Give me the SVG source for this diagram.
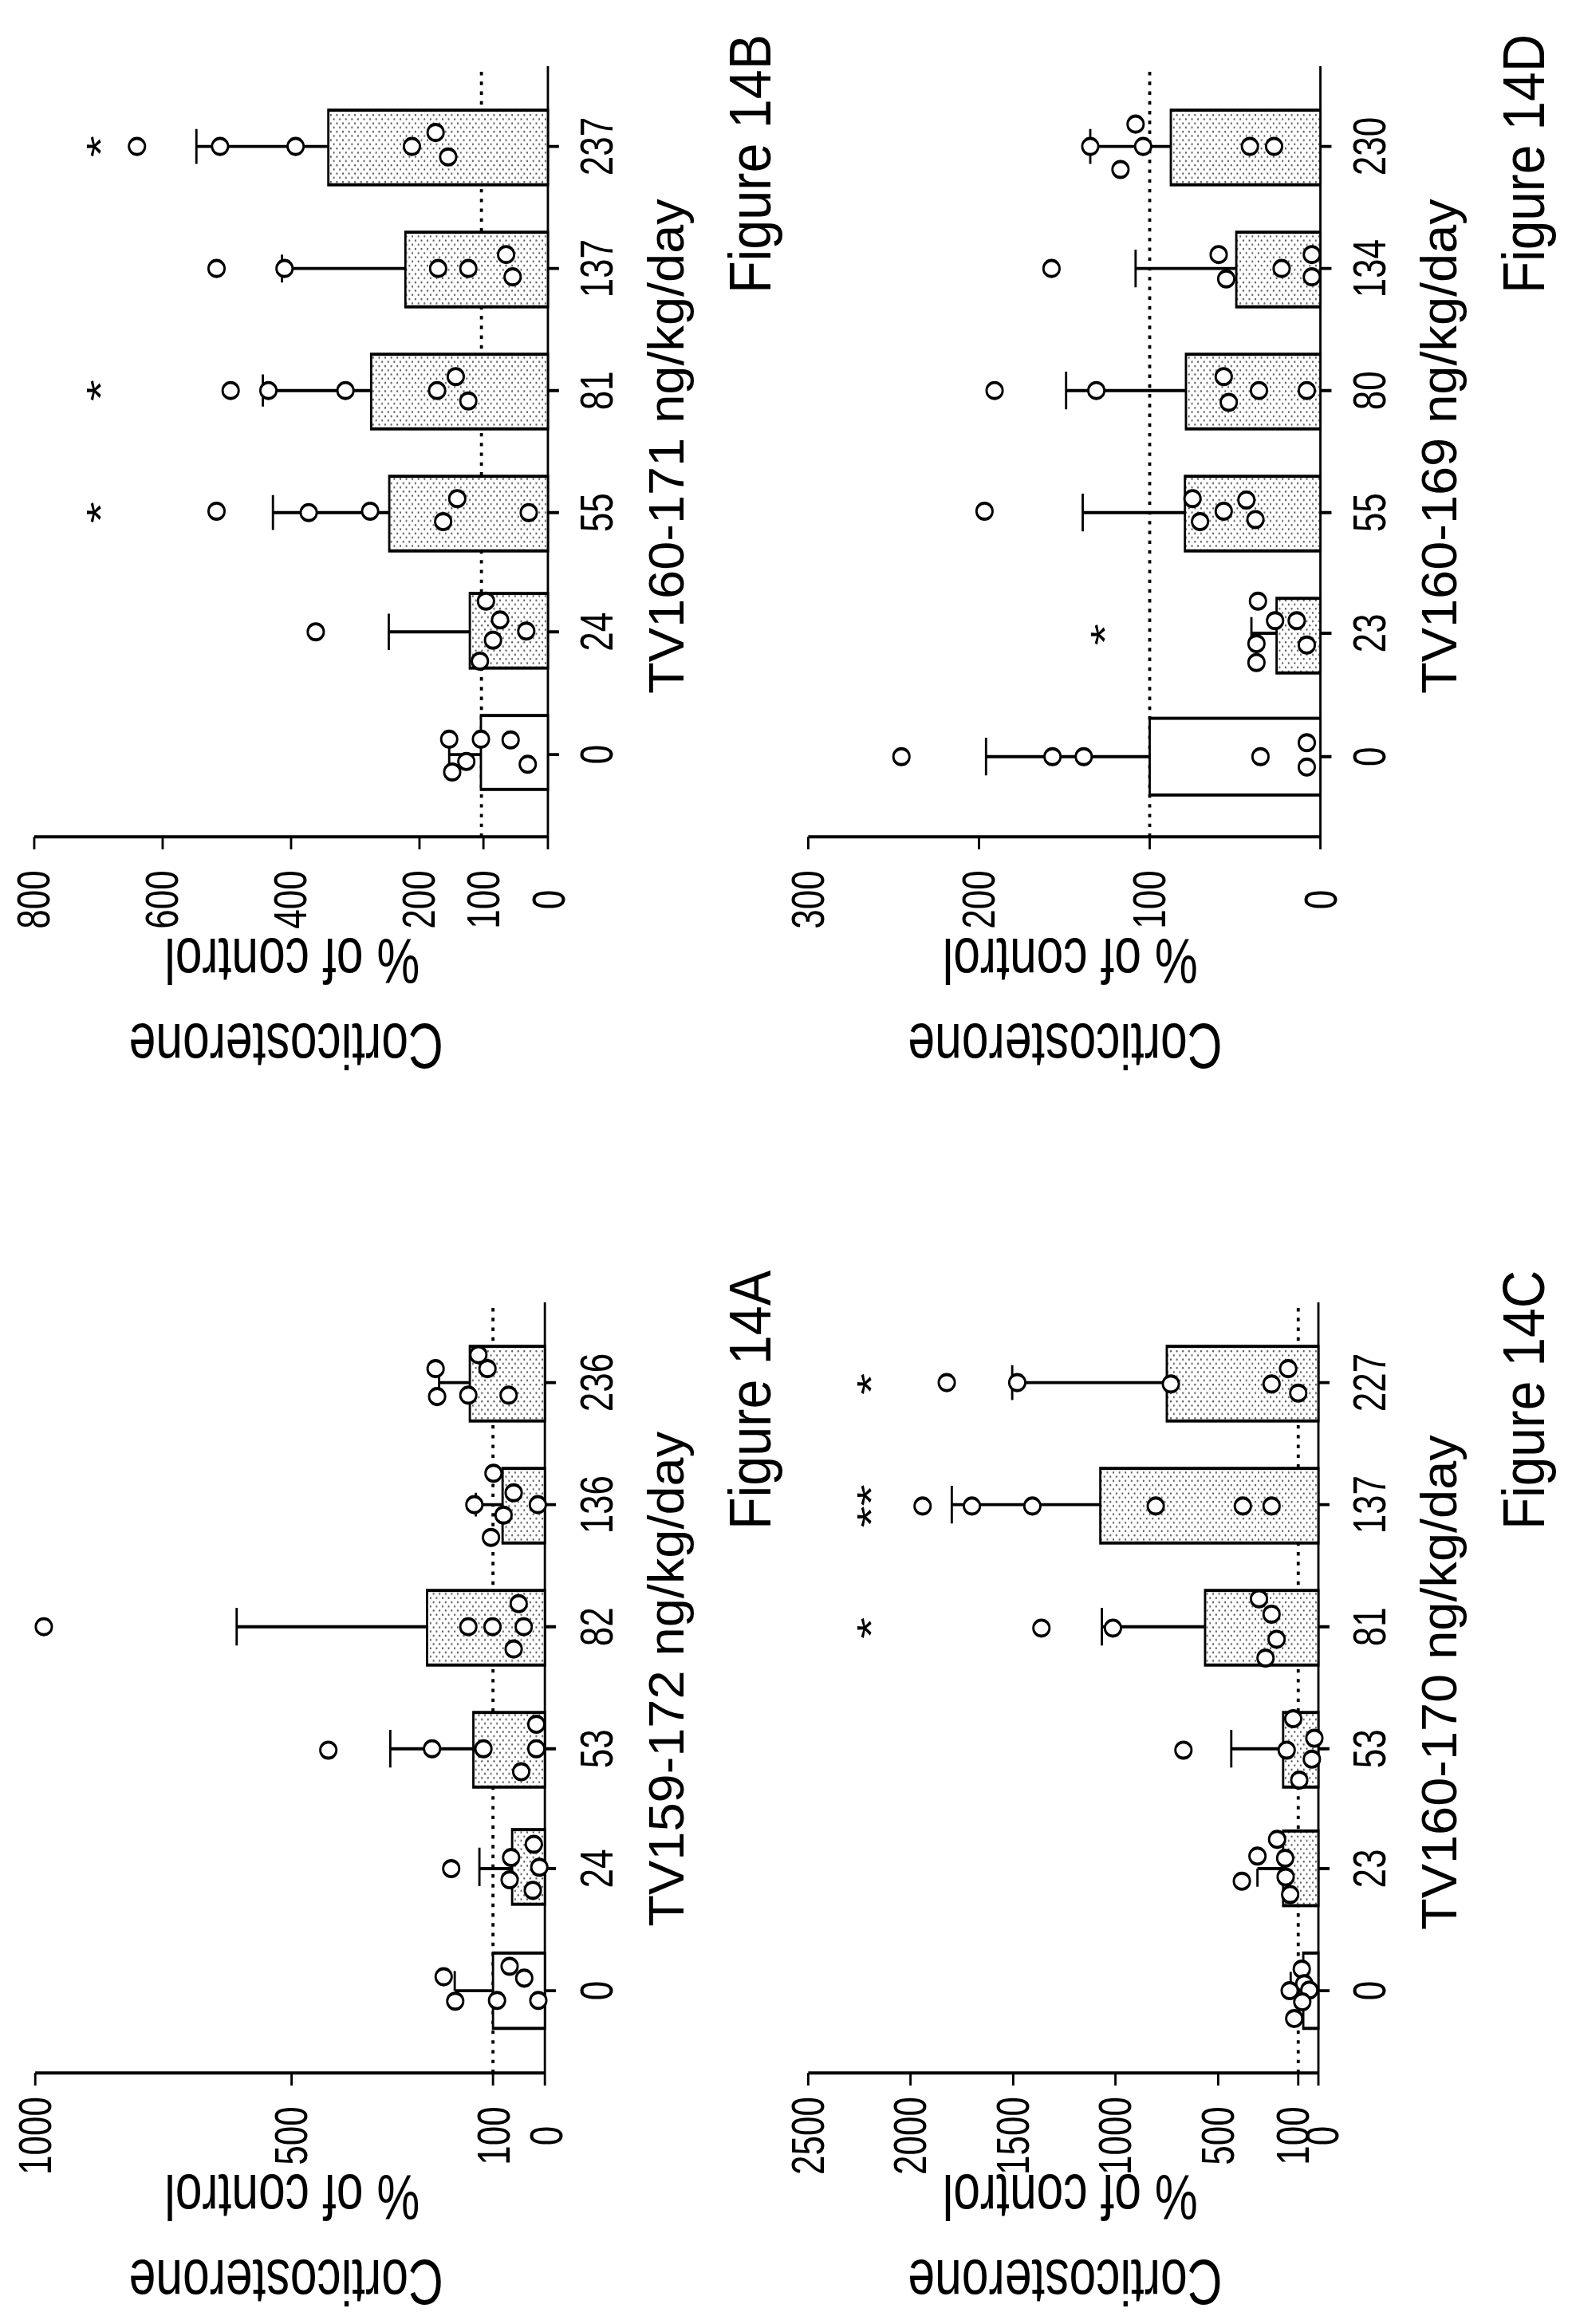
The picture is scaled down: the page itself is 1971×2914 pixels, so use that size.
<svg xmlns="http://www.w3.org/2000/svg" width="1971" height="2914" viewBox="0 0 1971 2914">
<defs>
<pattern id="stip" width="12" height="12" patternUnits="userSpaceOnUse"><rect width="12" height="12" fill="#fff"/><circle cx="3" cy="3" r="1.6" fill="#555"/><circle cx="9" cy="9" r="1.6" fill="#555"/></pattern>
</defs>
<style>
.ax{stroke:#000;stroke-width:4.5;fill:none}
.dl{stroke:#000;stroke-width:6;stroke-dasharray:5 9;fill:none}
.bar{fill:url(#stip);stroke:#000;stroke-width:4.5}
.open{fill:#fff;stroke:#000;stroke-width:4.5}
.pt{fill:#fff;stroke:#000;stroke-width:4.5}
.t{font-family:"Liberation Sans",Arial,sans-serif;fill:#000;text-anchor:middle;dominant-baseline:central}
.tk{font-size:90px}
.ti{font-size:100px}
.fg{font-size:118px}
.yl{font-size:96px}
.st{font-size:80px}
</style>
<rect width="1971" height="2914" fill="#fff"/>

<!-- Panel B -->
<g id="panelB" transform="translate(0,0) scale(0.6314,0.8744)">
<g id="axesB">
<path class="ax" d="M1088,95 V1200 H68 M68,1200 v18 M323,1200 v18 M578,1200 v18 M833,1200 v18 M960,1200 v18 M1088,1200 v18 M1088,1082 h22 M1088,906 h22 M1088,735 h22 M1088,560 h22 M1088,385 h22 M1088,210 h22"/>
<path class="dl" d="M956,1200 V95"/>
<g class="t tk">
<text transform="translate(1090,1290) rotate(-90)" textLength="28" lengthAdjust="spacingAndGlyphs">0</text>
<text transform="translate(960,1290) rotate(-90)" textLength="84" lengthAdjust="spacingAndGlyphs">100</text>
<text transform="translate(833,1290) rotate(-90)" textLength="84" lengthAdjust="spacingAndGlyphs">200</text>
<text transform="translate(578,1290) rotate(-90)" textLength="84" lengthAdjust="spacingAndGlyphs">400</text>
<text transform="translate(323,1290) rotate(-90)" textLength="84" lengthAdjust="spacingAndGlyphs">600</text>
<text transform="translate(68,1290) rotate(-90)" textLength="84" lengthAdjust="spacingAndGlyphs">800</text>
<text transform="translate(1185,1082) rotate(-90)" textLength="28" lengthAdjust="spacingAndGlyphs">0</text>
<text transform="translate(1185,906) rotate(-90)" textLength="56" lengthAdjust="spacingAndGlyphs">24</text>
<text transform="translate(1185,735) rotate(-90)" textLength="56" lengthAdjust="spacingAndGlyphs">55</text>
<text transform="translate(1185,560) rotate(-90)" textLength="56" lengthAdjust="spacingAndGlyphs">81</text>
<text transform="translate(1185,385) rotate(-90)" textLength="84" lengthAdjust="spacingAndGlyphs">137</text>
<text transform="translate(1185,210) rotate(-90)" textLength="84" lengthAdjust="spacingAndGlyphs">237</text>
</g>
<text class="t ti" transform="translate(1322,640) rotate(-90)" textLength="710" lengthAdjust="spacingAndGlyphs">TV160-171 ng/kg/day</text>
<text class="t fg" transform="translate(1490,235) rotate(-90)" textLength="372" lengthAdjust="spacingAndGlyphs">Figure 14B</text>
<text class="t yl" transform="translate(568,1500) scale(1,0.95) rotate(180)">Corticosterone</text>
<text class="t yl" transform="translate(580,1378) scale(1,0.95) rotate(180)">% of control</text>
</g>
<g id="barsB">
<rect class="open" x="955" y="1026" width="133" height="106"/>
<rect class="bar" x="933" y="851" width="155" height="107"/>
<rect class="bar" x="773" y="683" width="315" height="107"/>
<rect class="bar" x="737" y="508" width="351" height="107"/>
<rect class="bar" x="805" y="333" width="283" height="107"/>
<rect class="bar" x="652" y="158" width="436" height="107"/>
<path class="ax" d="M955,1082 H892 M892,1060 v47 M933,906 H772 M772,880 v52 M773,735 H542 M542,710 v50 M737,560 H522 M522,537 v46 M805,385 H560 M560,365 v40 M652,210 H390 M390,185 v50"/>
</g>
<g id="ptsB">
<ellipse class="pt" cx="892" cy="1060" rx="16" ry="11.5"/><ellipse class="pt" cx="898" cy="1107" rx="16" ry="11.5"/><ellipse class="pt" cx="926" cy="1092" rx="16" ry="11.5"/><ellipse class="pt" cx="955" cy="1060" rx="16" ry="11.5"/><ellipse class="pt" cx="1014" cy="1061" rx="16" ry="11.5"/><ellipse class="pt" cx="1048" cy="1096" rx="16" ry="11.5"/>
<ellipse class="pt" cx="627" cy="906" rx="16" ry="11.5"/><ellipse class="pt" cx="953" cy="948" rx="16" ry="11.5"/><ellipse class="pt" cx="979" cy="918" rx="16" ry="11.5"/><ellipse class="pt" cx="993" cy="889" rx="16" ry="11.5"/><ellipse class="pt" cx="965" cy="862" rx="16" ry="11.5"/><ellipse class="pt" cx="1045" cy="905" rx="16" ry="11.5"/>
<ellipse class="pt" cx="430" cy="733" rx="16" ry="11.5"/><ellipse class="pt" cx="613" cy="735" rx="16" ry="11.5"/><ellipse class="pt" cx="735" cy="733" rx="16" ry="11.5"/><ellipse class="pt" cx="880" cy="748" rx="16" ry="11.5"/><ellipse class="pt" cx="908" cy="715" rx="16" ry="11.5"/><ellipse class="pt" cx="1050" cy="735" rx="16" ry="11.5"/>
<ellipse class="pt" cx="458" cy="560" rx="16" ry="11.5"/><ellipse class="pt" cx="533" cy="560" rx="16" ry="11.5"/><ellipse class="pt" cx="686" cy="560" rx="16" ry="11.5"/><ellipse class="pt" cx="868" cy="560" rx="16" ry="11.5"/><ellipse class="pt" cx="905" cy="540" rx="16" ry="11.5"/><ellipse class="pt" cx="930" cy="575" rx="16" ry="11.5"/>
<ellipse class="pt" cx="430" cy="385" rx="16" ry="11.5"/><ellipse class="pt" cx="565" cy="385" rx="16" ry="11.5"/><ellipse class="pt" cx="870" cy="385" rx="16" ry="11.5"/><ellipse class="pt" cx="930" cy="385" rx="16" ry="11.5"/><ellipse class="pt" cx="1005" cy="365" rx="16" ry="11.5"/><ellipse class="pt" cx="1018" cy="397" rx="16" ry="11.5"/>
<ellipse class="pt" cx="272" cy="210" rx="16" ry="11.5"/><ellipse class="pt" cx="437" cy="210" rx="16" ry="11.5"/><ellipse class="pt" cx="587" cy="210" rx="16" ry="11.5"/><ellipse class="pt" cx="818" cy="210" rx="16" ry="11.5"/><ellipse class="pt" cx="865" cy="190" rx="16" ry="11.5"/><ellipse class="pt" cx="890" cy="225" rx="16" ry="11.5"/>
</g>
<g class="t st">
<text transform="translate(200,735) rotate(-90)">*</text>
<text transform="translate(200,560) rotate(-90)">*</text>
<text transform="translate(200,210) rotate(-90)">*</text>
</g>
</g>

<!-- Panel D -->
<g id="panelD" transform="translate(985,0) scale(0.6314,0.8744)">
<g id="axesD">
<path class="ax" d="M1062,95 V1200 H45 M45,1200 v18 M384,1200 v18 M723,1200 v18 M1062,1200 v18 M1062,1085 h22 M1062,908 h22 M1062,735 h22 M1062,560 h22 M1062,385 h22 M1062,210 h22"/>
<path class="dl" d="M723,1200 V95"/>
<g class="t tk">
<text transform="translate(1064,1290) rotate(-90)" textLength="28" lengthAdjust="spacingAndGlyphs">0</text>
<text transform="translate(723,1290) rotate(-90)" textLength="84" lengthAdjust="spacingAndGlyphs">100</text>
<text transform="translate(384,1290) rotate(-90)" textLength="84" lengthAdjust="spacingAndGlyphs">200</text>
<text transform="translate(45,1290) rotate(-90)" textLength="84" lengthAdjust="spacingAndGlyphs">300</text>
<text transform="translate(1160,1085) rotate(-90)" textLength="28" lengthAdjust="spacingAndGlyphs">0</text>
<text transform="translate(1160,908) rotate(-90)" textLength="56" lengthAdjust="spacingAndGlyphs">23</text>
<text transform="translate(1160,735) rotate(-90)" textLength="56" lengthAdjust="spacingAndGlyphs">55</text>
<text transform="translate(1160,560) rotate(-90)" textLength="56" lengthAdjust="spacingAndGlyphs">80</text>
<text transform="translate(1160,385) rotate(-90)" textLength="84" lengthAdjust="spacingAndGlyphs">134</text>
<text transform="translate(1160,210) rotate(-90)" textLength="84" lengthAdjust="spacingAndGlyphs">230</text>
</g>
<text class="t ti" transform="translate(1298,640) rotate(-90)" textLength="710" lengthAdjust="spacingAndGlyphs">TV160-169 ng/kg/day</text>
<text class="t fg" transform="translate(1465,235) rotate(-90)" textLength="372" lengthAdjust="spacingAndGlyphs">Figure 14D</text>
<text class="t yl" transform="translate(555,1500) scale(1,0.95) rotate(180)">Corticosterone</text>
<text class="t yl" transform="translate(565,1378) scale(1,0.95) rotate(180)">% of control</text>
</g>
<g id="barsD">
<rect class="open" x="723" y="1030" width="339" height="110"/>
<rect class="bar" x="975" y="858" width="87" height="107"/>
<rect class="bar" x="793" y="683" width="269" height="107"/>
<rect class="bar" x="795" y="508" width="267" height="107"/>
<rect class="bar" x="895" y="333" width="167" height="107"/>
<rect class="bar" x="765" y="158" width="297" height="107"/>
<path class="ax" d="M723,1085 H398 M398,1058 v54 M975,908 H925 M925,885 v46 M793,735 H590 M590,708 v54 M795,560 H557 M557,533 v54 M895,385 H695 M695,358 v54 M765,210 H605 M605,185 v50"/>
</g>
<g id="ptsD">
<ellipse class="pt" cx="230" cy="1085" rx="16" ry="11.5"/><ellipse class="pt" cx="530" cy="1085" rx="16" ry="11.5"/><ellipse class="pt" cx="592" cy="1085" rx="16" ry="11.5"/><ellipse class="pt" cx="943" cy="1085" rx="16" ry="11.5"/><ellipse class="pt" cx="1035" cy="1065" rx="16" ry="11.5"/><ellipse class="pt" cx="1035" cy="1100" rx="16" ry="11.5"/>
<ellipse class="pt" cx="935" cy="950" rx="16" ry="11.5"/><ellipse class="pt" cx="935" cy="923" rx="16" ry="11.5"/><ellipse class="pt" cx="972" cy="890" rx="16" ry="11.5"/><ellipse class="pt" cx="1015" cy="890" rx="16" ry="11.5"/><ellipse class="pt" cx="1035" cy="925" rx="16" ry="11.5"/><ellipse class="pt" cx="938" cy="862" rx="16" ry="11.5"/>
<ellipse class="pt" cx="395" cy="733" rx="16" ry="11.5"/><ellipse class="pt" cx="808" cy="715" rx="16" ry="11.5"/><ellipse class="pt" cx="823" cy="748" rx="16" ry="11.5"/><ellipse class="pt" cx="870" cy="733" rx="16" ry="11.5"/><ellipse class="pt" cx="915" cy="717" rx="16" ry="11.5"/><ellipse class="pt" cx="933" cy="745" rx="16" ry="11.5"/>
<ellipse class="pt" cx="415" cy="560" rx="16" ry="11.5"/><ellipse class="pt" cx="617" cy="560" rx="16" ry="11.5"/><ellipse class="pt" cx="870" cy="540" rx="16" ry="11.5"/><ellipse class="pt" cx="880" cy="577" rx="16" ry="11.5"/><ellipse class="pt" cx="940" cy="560" rx="16" ry="11.5"/><ellipse class="pt" cx="1035" cy="560" rx="16" ry="11.5"/>
<ellipse class="pt" cx="528" cy="385" rx="16" ry="11.5"/><ellipse class="pt" cx="860" cy="365" rx="16" ry="11.5"/><ellipse class="pt" cx="875" cy="400" rx="16" ry="11.5"/><ellipse class="pt" cx="985" cy="385" rx="16" ry="11.5"/><ellipse class="pt" cx="1045" cy="365" rx="16" ry="11.5"/><ellipse class="pt" cx="1045" cy="397" rx="16" ry="11.5"/>
<ellipse class="pt" cx="605" cy="210" rx="16" ry="11.5"/><ellipse class="pt" cx="665" cy="243" rx="16" ry="11.5"/><ellipse class="pt" cx="710" cy="210" rx="16" ry="11.5"/><ellipse class="pt" cx="695" cy="178" rx="16" ry="11.5"/><ellipse class="pt" cx="922" cy="210" rx="16" ry="11.5"/><ellipse class="pt" cx="970" cy="210" rx="16" ry="11.5"/>
</g>
<g class="t st"><text transform="translate(635,910) rotate(-90)">*</text></g>
</g>

<!-- Panel A -->
<g id="panelA" transform="translate(0,1550) scale(0.6314,0.8744)">
<g id="axesA">
<path class="ax" d="M1082,95 V1200 H70 M70,1200 v18 M579,1200 v18 M979,1200 v18 M1082,1200 v18 M1082,1082 h22 M1082,907 h22 M1082,735 h22 M1082,560 h22 M1082,385 h22 M1082,210 h22"/>
<path class="dl" d="M979,1200 V95"/>
<g class="t tk">
<text transform="translate(1086,1290) rotate(-90)" textLength="28" lengthAdjust="spacingAndGlyphs">0</text>
<text transform="translate(982,1290) rotate(-90)" textLength="84" lengthAdjust="spacingAndGlyphs">100</text>
<text transform="translate(579,1290) rotate(-90)" textLength="84" lengthAdjust="spacingAndGlyphs">500</text>
<text transform="translate(70,1290) rotate(-90)" textLength="112" lengthAdjust="spacingAndGlyphs">1000</text>
<text transform="translate(1185,1082) rotate(-90)" textLength="28" lengthAdjust="spacingAndGlyphs">0</text>
<text transform="translate(1185,907) rotate(-90)" textLength="56" lengthAdjust="spacingAndGlyphs">24</text>
<text transform="translate(1185,735) rotate(-90)" textLength="56" lengthAdjust="spacingAndGlyphs">53</text>
<text transform="translate(1185,560) rotate(-90)" textLength="56" lengthAdjust="spacingAndGlyphs">82</text>
<text transform="translate(1185,385) rotate(-90)" textLength="84" lengthAdjust="spacingAndGlyphs">136</text>
<text transform="translate(1185,210) rotate(-90)" textLength="84" lengthAdjust="spacingAndGlyphs">236</text>
</g>
<text class="t ti" transform="translate(1322,635) rotate(-90)" textLength="710" lengthAdjust="spacingAndGlyphs">TV159-172 ng/kg/day</text>
<text class="t fg" transform="translate(1490,235) rotate(-90)" textLength="372" lengthAdjust="spacingAndGlyphs">Figure 14A</text>
<text class="t yl" transform="translate(568,1500) scale(1,0.95) rotate(180)">Corticosterone</text>
<text class="t yl" transform="translate(580,1378) scale(1,0.95) rotate(180)">% of control</text>
</g>
<g id="barsA">
<rect class="open" x="979" y="1028" width="103" height="108"/>
<rect class="bar" x="1017" y="851" width="65" height="107"/>
<rect class="bar" x="940" y="683" width="142" height="107"/>
<rect class="bar" x="848" y="508" width="234" height="107"/>
<rect class="bar" x="998" y="333" width="84" height="107"/>
<rect class="bar" x="933" y="158" width="149" height="107"/>
<path class="ax" d="M979,1082 H903 M903,1054 v28 M1017,907 H952 M952,877 v55 M940,735 H775 M775,708 v54 M848,560 H470 M470,533 v54 M998,385 H945 M945,368 v34 M933,210 H872 M872,190 v40"/>
</g>
<g id="ptsA">
<ellipse class="pt" cx="881" cy="1062" rx="16" ry="11.5"/><ellipse class="pt" cx="904" cy="1097" rx="16" ry="11.5"/><ellipse class="pt" cx="987" cy="1096" rx="16" ry="11.5"/><ellipse class="pt" cx="1069" cy="1096" rx="16" ry="11.5"/><ellipse class="pt" cx="1012" cy="1047" rx="16" ry="11.5"/><ellipse class="pt" cx="1041" cy="1064" rx="16" ry="11.5"/>
<ellipse class="pt" cx="896" cy="907" rx="16" ry="11.5"/><ellipse class="pt" cx="1015" cy="891" rx="16" ry="11.5"/><ellipse class="pt" cx="1060" cy="872" rx="16" ry="11.5"/><ellipse class="pt" cx="1012" cy="923" rx="16" ry="11.5"/><ellipse class="pt" cx="1071" cy="905" rx="16" ry="11.5"/><ellipse class="pt" cx="1058" cy="938" rx="16" ry="11.5"/>
<ellipse class="pt" cx="652" cy="737" rx="16" ry="11.5"/><ellipse class="pt" cx="858" cy="735" rx="16" ry="11.5"/><ellipse class="pt" cx="960" cy="735" rx="16" ry="11.5"/><ellipse class="pt" cx="1065" cy="700" rx="16" ry="11.5"/><ellipse class="pt" cx="1065" cy="735" rx="16" ry="11.5"/><ellipse class="pt" cx="1035" cy="768" rx="16" ry="11.5"/>
<ellipse class="pt" cx="87" cy="560" rx="16" ry="11.5"/><ellipse class="pt" cx="930" cy="560" rx="16" ry="11.5"/><ellipse class="pt" cx="978" cy="560" rx="16" ry="11.5"/><ellipse class="pt" cx="1030" cy="527" rx="16" ry="11.5"/><ellipse class="pt" cx="1040" cy="560" rx="16" ry="11.5"/><ellipse class="pt" cx="1020" cy="592" rx="16" ry="11.5"/>
<ellipse class="pt" cx="942" cy="385" rx="16" ry="11.5"/><ellipse class="pt" cx="975" cy="432" rx="16" ry="11.5"/><ellipse class="pt" cx="1000" cy="400" rx="16" ry="11.5"/><ellipse class="pt" cx="1020" cy="368" rx="16" ry="11.5"/><ellipse class="pt" cx="1068" cy="385" rx="16" ry="11.5"/><ellipse class="pt" cx="980" cy="340" rx="16" ry="11.5"/>
<ellipse class="pt" cx="865" cy="190" rx="16" ry="11.5"/><ellipse class="pt" cx="868" cy="230" rx="16" ry="11.5"/><ellipse class="pt" cx="930" cy="228" rx="16" ry="11.5"/><ellipse class="pt" cx="968" cy="190" rx="16" ry="11.5"/><ellipse class="pt" cx="950" cy="170" rx="16" ry="11.5"/><ellipse class="pt" cx="1010" cy="228" rx="16" ry="11.5"/>
</g>
</g>

<!-- Panel C -->
<g id="panelC" transform="translate(985,1550) scale(0.6314,0.8744)">
<g id="axesC">
<path class="ax" d="M1058,95 V1200 H45 M45,1200 v18 M248,1200 v18 M452,1200 v18 M655,1200 v18 M859,1200 v18 M1018,1200 v18 M1058,1200 v18 M1058,1082 h22 M1058,907 h22 M1058,735 h22 M1058,560 h22 M1058,385 h22 M1058,210 h22"/>
<path class="dl" d="M1018,1200 V95"/>
<g class="t tk">
<text transform="translate(1066,1290) rotate(-90)" textLength="28" lengthAdjust="spacingAndGlyphs">0</text>
<text transform="translate(1008,1290) rotate(-90)" textLength="84" lengthAdjust="spacingAndGlyphs">100</text>
<text transform="translate(859,1290) rotate(-90)" textLength="84" lengthAdjust="spacingAndGlyphs">500</text>
<text transform="translate(655,1290) rotate(-90)" textLength="112" lengthAdjust="spacingAndGlyphs">1000</text>
<text transform="translate(452,1290) rotate(-90)" textLength="112" lengthAdjust="spacingAndGlyphs">1500</text>
<text transform="translate(248,1290) rotate(-90)" textLength="112" lengthAdjust="spacingAndGlyphs">2000</text>
<text transform="translate(45,1290) rotate(-90)" textLength="112" lengthAdjust="spacingAndGlyphs">2500</text>
<text transform="translate(1160,1082) rotate(-90)" textLength="28" lengthAdjust="spacingAndGlyphs">0</text>
<text transform="translate(1160,907) rotate(-90)" textLength="56" lengthAdjust="spacingAndGlyphs">23</text>
<text transform="translate(1160,735) rotate(-90)" textLength="56" lengthAdjust="spacingAndGlyphs">53</text>
<text transform="translate(1160,560) rotate(-90)" textLength="56" lengthAdjust="spacingAndGlyphs">81</text>
<text transform="translate(1160,385) rotate(-90)" textLength="84" lengthAdjust="spacingAndGlyphs">137</text>
<text transform="translate(1160,210) rotate(-90)" textLength="84" lengthAdjust="spacingAndGlyphs">227</text>
</g>
<text class="t ti" transform="translate(1298,640) rotate(-90)" textLength="710" lengthAdjust="spacingAndGlyphs">TV160-170 ng/kg/day</text>
<text class="t fg" transform="translate(1465,235) rotate(-90)" textLength="372" lengthAdjust="spacingAndGlyphs">Figure 14C</text>
<text class="t yl" transform="translate(555,1500) scale(1,0.95) rotate(180)">Corticosterone</text>
<text class="t yl" transform="translate(565,1378) scale(1,0.95) rotate(180)">% of control</text>
</g>
<g id="barsC">
<rect class="open" x="1028" y="1028" width="30" height="108"/>
<rect class="bar" x="988" y="853" width="70" height="107"/>
<rect class="bar" x="988" y="683" width="70" height="107"/>
<rect class="bar" x="833" y="508" width="225" height="107"/>
<rect class="bar" x="625" y="333" width="433" height="107"/>
<rect class="bar" x="757" y="158" width="301" height="107"/>
<path class="ax" d="M1028,1082 H1003 M1003,1055 v27 M988,907 H937 M937,907 v26 M988,735 H885 M885,708 v54 M833,560 H628 M628,533 v54 M625,385 H330 M330,358 v54 M757,210 H450 M450,185 v50"/>
</g>
<g id="ptsC">
<ellipse class="pt" cx="1025" cy="1051" rx="16" ry="11.5"/><ellipse class="pt" cx="1030" cy="1072" rx="16" ry="11.5"/><ellipse class="pt" cx="1001" cy="1082" rx="16" ry="11.5"/><ellipse class="pt" cx="1040" cy="1081" rx="16" ry="11.5"/><ellipse class="pt" cx="1026" cy="1098" rx="16" ry="11.5"/><ellipse class="pt" cx="1010" cy="1122" rx="16" ry="11.5"/>
<ellipse class="pt" cx="937" cy="889" rx="16" ry="11.5"/><ellipse class="pt" cx="906" cy="925" rx="16" ry="11.5"/><ellipse class="pt" cx="992" cy="892" rx="16" ry="11.5"/><ellipse class="pt" cx="993" cy="919" rx="16" ry="11.5"/><ellipse class="pt" cx="976" cy="865" rx="16" ry="11.5"/><ellipse class="pt" cx="1002" cy="944" rx="16" ry="11.5"/>
<ellipse class="pt" cx="790" cy="737" rx="16" ry="11.5"/><ellipse class="pt" cx="995" cy="737" rx="16" ry="11.5"/><ellipse class="pt" cx="1020" cy="780" rx="16" ry="11.5"/><ellipse class="pt" cx="1045" cy="750" rx="16" ry="11.5"/><ellipse class="pt" cx="1050" cy="720" rx="16" ry="11.5"/><ellipse class="pt" cx="1008" cy="692" rx="16" ry="11.5"/>
<ellipse class="pt" cx="508" cy="562" rx="16" ry="11.5"/><ellipse class="pt" cx="650" cy="562" rx="16" ry="11.5"/><ellipse class="pt" cx="953" cy="605" rx="16" ry="11.5"/><ellipse class="pt" cx="975" cy="578" rx="16" ry="11.5"/><ellipse class="pt" cx="965" cy="542" rx="16" ry="11.5"/><ellipse class="pt" cx="940" cy="520" rx="16" ry="11.5"/>
<ellipse class="pt" cx="272" cy="387" rx="16" ry="11.5"/><ellipse class="pt" cx="370" cy="387" rx="16" ry="11.5"/><ellipse class="pt" cx="490" cy="387" rx="16" ry="11.5"/><ellipse class="pt" cx="735" cy="387" rx="16" ry="11.5"/><ellipse class="pt" cx="908" cy="387" rx="16" ry="11.5"/><ellipse class="pt" cx="965" cy="387" rx="16" ry="11.5"/>
<ellipse class="pt" cx="320" cy="210" rx="16" ry="11.5"/><ellipse class="pt" cx="460" cy="210" rx="16" ry="11.5"/><ellipse class="pt" cx="765" cy="212" rx="16" ry="11.5"/><ellipse class="pt" cx="965" cy="212" rx="16" ry="11.5"/><ellipse class="pt" cx="998" cy="190" rx="16" ry="11.5"/><ellipse class="pt" cx="1018" cy="225" rx="16" ry="11.5"/>
</g>
<g class="t st">
<text transform="translate(170,562) rotate(-90)">*</text>
<text transform="translate(170,387) rotate(-90)">**</text>
<text transform="translate(170,212) rotate(-90)">*</text>
</g>
</g>
</svg>
